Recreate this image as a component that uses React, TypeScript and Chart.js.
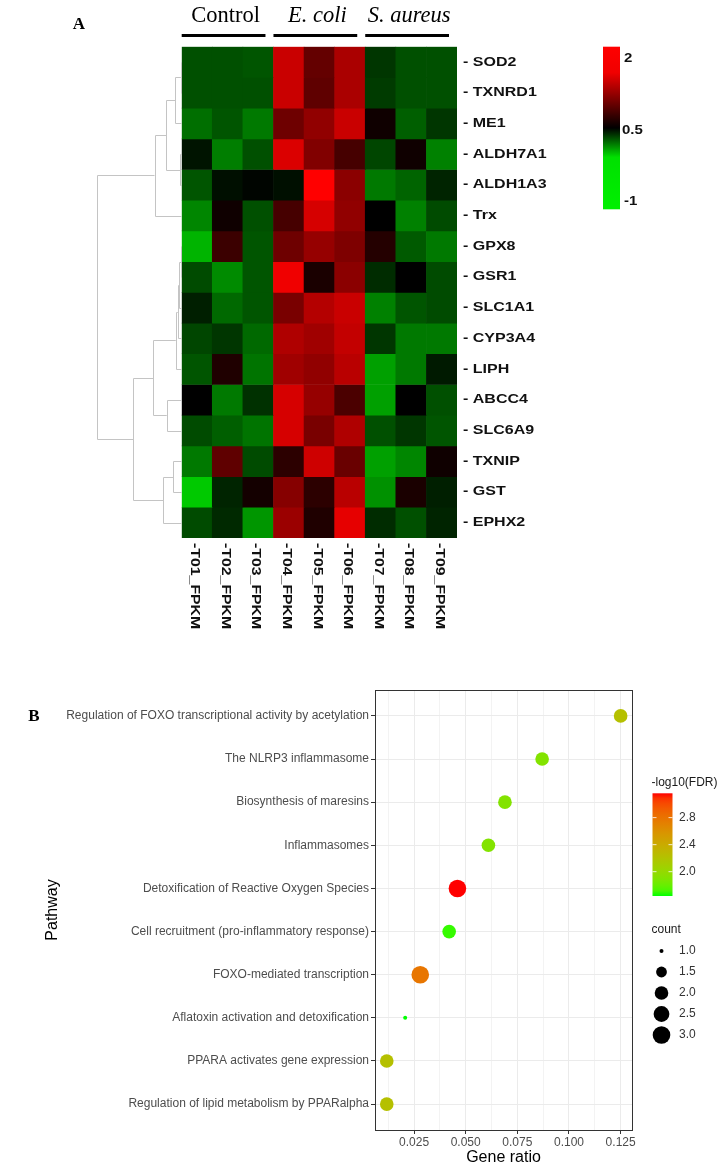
import React, { useEffect, useRef } from 'react';
import { Chart, registerables } from 'chart.js';
Chart.register(...registerables);

// ---------- Panel A data ----------
const geneLabels = ['SOD2', 'TXNRD1', 'ME1', 'ALDH7A1', 'ALDH1A3', 'Trx', 'GPX8', 'GSR1', 'SLC1A1', 'CYP3A4', 'LIPH', 'ABCC4', 'SLC6A9', 'TXNIP', 'GST', 'EPHX2'];
const sampleLabels = ['T01_FPKM', 'T02_FPKM', 'T03_FPKM', 'T04_FPKM', 'T05_FPKM', 'T06_FPKM', 'T07_FPKM', 'T08_FPKM', 'T09_FPKM'];
const groupLabels = ['Control', 'E. coli', 'S. aureus'];
const groupItalic = [false, true, true];
const groupStart = [0, 3, 6];

const SOD2 = [0.03, 0.03, 0.0, 1.68, 1.09, 1.5, 0.18, 0.03, 0.03];
const TXNRD1 = [0.03, 0.03, 0.03, 1.68, 1.06, 1.5, 0.15, 0.03, 0.03];
const ME1 = [-0.15, 0.0, -0.21, 1.15, 1.35, 1.68, 0.59, -0.06, 0.18];
const ALDH7A1 = [0.38, -0.24, 0.03, 1.79, 1.26, 0.91, 0.09, 0.59, -0.26];
const ALDH1A3 = [0.0, 0.41, 0.47, 0.41, 2.0, 1.32, -0.21, -0.09, 0.29];
const Trx = [-0.29, 0.59, 0.03, 0.91, 1.76, 1.35, 0.5, -0.26, 0.06];
const GPX8 = [-0.56, 0.85, 0.0, 1.15, 1.38, 1.24, 0.71, -0.03, -0.21];
const GSR1 = [0.06, -0.32, 0.0, 1.91, 0.65, 1.32, 0.24, 0.5, 0.06];
const SLC1A1 = [0.32, -0.12, 0.0, 1.21, 1.56, 1.68, -0.26, 0.0, 0.06];
const CYP3A4 = [0.09, 0.18, -0.12, 1.53, 1.44, 1.65, 0.18, -0.21, -0.21];
const LIPH = [0.0, 0.68, -0.18, 1.44, 1.35, 1.59, -0.44, -0.21, 0.35];
const ABCC4 = [0.5, -0.21, 0.21, 1.76, 1.38, 0.94, -0.44, 0.5, 0.03];
const SLC6A9 = [0.06, -0.06, -0.18, 1.76, 1.21, 1.53, 0.03, 0.18, 0.0];
const TXNIP = [-0.21, 1.06, 0.06, 0.76, 1.71, 1.12, -0.44, -0.29, 0.59];
const GST = [-0.68, 0.29, 0.62, 1.29, 0.76, 1.59, -0.35, 0.65, 0.32];
const EPHX2 = [0.06, 0.26, -0.38, 1.41, 0.68, 1.85, 0.24, 0.03, 0.29];
const heatRows = [SOD2, TXNRD1, ME1, ALDH7A1, ALDH1A3, Trx, GPX8, GSR1, SLC1A1, CYP3A4, LIPH, ABCC4, SLC6A9, TXNIP, GST, EPHX2];

// hclust-style merges: negative = leaf (1-based row), positive = earlier merge; third = height
const dendroMerge: [number, number, number][] = [
  [-1, -2, 0.1],
  [1, -3, 0.79],
  [-4, -5, 0.2],
  [2, 3, 1.85],
  [4, -6, 3.2],
  [-7, -8, 0.08],
  [6, -9, 0.27],
  [7, -10, 0.47],
  [8, -11, 0.7],
  [-12, -13, 1.76],
  [9, 10, 3.33],
  [-14, -15, 0.98],
  [12, -16, 2.15],
  [11, 13, 5.7],
  [5, 14, 10],
];
const heatLegendTicks = [2, 0.5, -1];

// ---------- Panel B data ----------
const pathways = [
  'Regulation of FOXO transcriptional activity by acetylation',
  'The NLRP3 inflammasome',
  'Biosynthesis of maresins',
  'Inflammasomes',
  'Detoxification of Reactive Oxygen Species',
  'Cell recruitment (pro-inflammatory response)',
  'FOXO-mediated transcription',
  'Aflatoxin activation and detoxification',
  'PPARA activates gene expression',
  'Regulation of lipid metabolism by PPARalpha',
];
const geneRatio = [0.125, 0.087, 0.069, 0.061, 0.046, 0.042, 0.028, 0.0207, 0.0118, 0.0118];
const negLog10FDR = [2.22, 1.91, 1.91, 1.91, 3.16, 1.68, 2.78, 1.64, 2.22, 2.22];
const geneCount = [2, 2, 2, 2, 3, 2, 3, 1, 2, 2];
const gratioTicks = [0.025, 0.05, 0.075, 0.1, 0.125];
const fdrLegendTicks = [2.0, 2.4, 2.8];
const countLegendValues = [1.0, 1.5, 2.0, 2.5, 3.0];

// ---------- helpers ----------
function heatColor(v: number): string {
  if (v >= 0.5) {
    const r = Math.round(Math.min(255, ((v - 0.5) / 1.5) * 255));
    return `rgb(${r},0,0)`;
  }
  const g = Math.round(Math.min(255, ((0.5 - v) / 1.5) * 255));
  return `rgb(0,${g},0)`;
}

function s2l(c: number) { c /= 255; return c <= 0.04045 ? c / 12.92 : Math.pow((c + 0.055) / 1.055, 2.4); }
function l2s(c: number) {
  const v = c <= 0.0031308 ? 12.92 * c : 1.055 * Math.pow(c, 1 / 2.4) - 0.055;
  return Math.round(Math.max(0, Math.min(1, v)) * 255);
}
function rgbToLab(rgb: number[]) {
  const R = s2l(rgb[0]), G = s2l(rgb[1]), B = s2l(rgb[2]);
  const X = (0.4124 * R + 0.3576 * G + 0.1805 * B) / 0.95047;
  const Y = 0.2126 * R + 0.7152 * G + 0.0722 * B;
  const Z = (0.0193 * R + 0.1192 * G + 0.9505 * B) / 1.08883;
  const f = (t: number) => (t > 0.008856 ? Math.cbrt(t) : 7.787 * t + 16 / 116);
  const fx = f(X), fy = f(Y), fz = f(Z);
  return [116 * fy - 16, 500 * (fx - fy), 200 * (fy - fz)];
}
function labToRgb(lab: number[]) {
  const fy = (lab[0] + 16) / 116, fx = fy + lab[1] / 500, fz = fy - lab[2] / 200;
  const fi = (t: number) => (t * t * t > 0.008856 ? t * t * t : (t - 16 / 116) / 7.787);
  const X = fi(fx) * 0.95047, Y = fi(fy), Z = fi(fz) * 1.08883;
  const R = 3.2406 * X - 1.5372 * Y - 0.4986 * Z;
  const G = -0.9689 * X + 1.8758 * Y + 0.0415 * Z;
  const B = 0.0557 * X - 0.204 * Y + 1.057 * Z;
  return [l2s(R), l2s(G), l2s(B)];
}
const LAB_LOW = rgbToLab([0, 255, 0]);
const LAB_HIGH = rgbToLab([255, 0, 0]);
const fdrMin = Math.min(...negLog10FDR);
const fdrMax = Math.max(...negLog10FDR);
function fdrColor(v: number): string {
  const t = Math.max(0, Math.min(1, (v - fdrMin) / (fdrMax - fdrMin)));
  const lab = [0, 1, 2].map((k) => LAB_LOW[k] + (LAB_HIGH[k] - LAB_LOW[k]) * t);
  const c = labToRgb(lab);
  return `rgb(${c[0]},${c[1]},${c[2]})`;
}
const cMin = Math.min(...countLegendValues), cMax = Math.max(...countLegendValues);
function countRadius(c: number): number {
  const s = 1 + 5 * Math.sqrt((c - cMin) / (cMax - cMin));
  return 0.64 + 1.36 * s;
}

function stretchText(ctx: CanvasRenderingContext2D, text: string, x: number, y: number, sx: number) {
  ctx.save();
  ctx.translate(x, y);
  ctx.scale(sx, 1);
  ctx.fillText(text, 0, 0);
  ctx.restore();
}

const SANS = '"Liberation Sans", Arial, sans-serif';
const SERIF = '"Liberation Serif", "Times New Roman", serif';

// ---------- Panel A plugin ----------
const heatDecor = {
  id: 'heatDecor',
  afterDraw(chart: any) {
    const ctx: CanvasRenderingContext2D = chart.ctx;
    const area = chart.chartArea;
    const xs = chart.scales.x;
    const ys = chart.scales.y;
    const colW = (area.right - area.left) / sampleLabels.length;
    ctx.save();

    // Panel letter
    ctx.fillStyle = '#000';
    ctx.font = `bold 17px ${SERIF}`;
    ctx.textAlign = 'center';
    ctx.textBaseline = 'middle';
    ctx.fillText('A', 79, 25);

    // Group headers
    groupLabels.forEach((g, i) => {
      const left = xs.getPixelForValue(groupStart[i]) - colW / 2;
      const right = left + 3 * colW - 8;
      ctx.strokeStyle = '#000';
      ctx.lineWidth = 3;
      ctx.beginPath();
      ctx.moveTo(left, 35.5);
      ctx.lineTo(right, 35.5);
      ctx.stroke();
      ctx.font = `${groupItalic[i] ? 'italic ' : ''}22.5px ${SERIF}`;
      ctx.textAlign = 'center';
      ctx.textBaseline = 'alphabetic';
      ctx.fillText(g, (left + right) / 2 + 2, 22);
    });

    // Row labels
    ctx.fillStyle = '#111';
    ctx.font = `bold 12.5px ${SANS}`;
    ctx.textAlign = 'left';
    ctx.textBaseline = 'middle';
    geneLabels.forEach((g, r) => {
      stretchText(ctx, '- ' + g, area.right + 6, ys.getPixelForValue(r + 0.5), 1.28);
    });

    // Column labels (rotated clockwise)
    ctx.font = `bold 12px ${SANS}`;
    sampleLabels.forEach((s, c) => {
      ctx.save();
      ctx.translate(xs.getPixelForValue(c) - 2.5, area.bottom + 5);
      ctx.rotate(Math.PI / 2);
      ctx.scale(1.32, 1);
      ctx.textAlign = 'left';
      ctx.textBaseline = 'middle';
      ctx.fillText('-' + s, 0, 0);
      ctx.restore();
    });

    // Dendrogram
    const hScale = 8.5;
    const hx = (h: number) => area.left - h * hScale;
    const nodes: { y: number; h: number }[] = [];
    const get = (id: number) => (id < 0 ? { y: ys.getPixelForValue(-id - 1 + 0.5), h: 0 } : nodes[id - 1]);
    ctx.strokeStyle = '#c4c4c4';
    ctx.lineWidth = 1;
    ctx.beginPath();
    dendroMerge.forEach(([a, b, h]) => {
      const A = get(a), B = get(b);
      const X = Math.round(hx(h)) + 0.5;
      ctx.moveTo(hx(A.h), Math.round(A.y) + 0.5);
      ctx.lineTo(X, Math.round(A.y) + 0.5);
      ctx.lineTo(X, Math.round(B.y) + 0.5);
      ctx.lineTo(hx(B.h), Math.round(B.y) + 0.5);
      nodes.push({ y: (A.y + B.y) / 2, h });
    });
    ctx.stroke();

    // Color key
    const kx = 603, kw = 17, ktop = 46.7, kbot = 209.3;
    const grad = ctx.createLinearGradient(0, ktop, 0, kbot);
    grad.addColorStop(0, '#ff0000');
    grad.addColorStop(0.16, '#f00000');
    grad.addColorStop(0.5, '#000000');
    grad.addColorStop(0.68, '#00e000');
    grad.addColorStop(1, '#00f000');
    ctx.fillStyle = grad;
    ctx.fillRect(kx, ktop, kw, kbot - ktop);
    const vTop = 2.25, vBot = -1.15;
    ctx.fillStyle = '#111';
    ctx.font = `bold 12px ${SANS}`;
    ctx.textAlign = 'left';
    ctx.textBaseline = 'middle';
    heatLegendTicks.forEach((t) => {
      const y = ktop + ((vTop - t) / (vTop - vBot)) * (kbot - ktop);
      stretchText(ctx, String(t), kx + kw + (t === 0.5 ? 2 : 4), y, 1.25);
    });
    ctx.restore();
  },
};

// ---------- Panel B plugin ----------
const dotDecor = {
  id: 'dotDecor',
  afterDraw(chart: any) {
    const ctx: CanvasRenderingContext2D = chart.ctx;
    const area = chart.chartArea;
    ctx.save();
    // panel border
    ctx.strokeStyle = '#333';
    ctx.lineWidth = 1;
    ctx.strokeRect(Math.round(area.left) + 0.5, Math.round(area.top) + 0.5, Math.round(area.right - area.left), Math.round(area.bottom - area.top));

    // panel letter
    ctx.fillStyle = '#000';
    ctx.font = `bold 17px ${SERIF}`;
    ctx.textAlign = 'center';
    ctx.textBaseline = 'middle';
    ctx.fillText('B', 34, 67);

    // colour legend
    const lx = 652.5, lw = 20, ltop = 143.3, lbot = 246;
    ctx.fillStyle = '#1a1a1a';
    ctx.font = `12px ${SANS}`;
    ctx.textAlign = 'left';
    ctx.textBaseline = 'middle';
    ctx.fillText('-log10(FDR)', 651.5, 133);
    const grad = ctx.createLinearGradient(0, lbot, 0, ltop);
    for (let k = 0; k <= 20; k++) {
      grad.addColorStop(k / 20, fdrColor(fdrMin + (fdrMax - fdrMin) * (k / 20)));
    }
    ctx.fillStyle = grad;
    ctx.fillRect(lx, ltop, lw, lbot - ltop);
    fdrLegendTicks.forEach((t) => {
      const y = lbot - ((t - fdrMin) / (fdrMax - fdrMin)) * (lbot - ltop);
      ctx.strokeStyle = 'rgba(255,255,255,0.8)';
      ctx.lineWidth = 1;
      ctx.beginPath();
      ctx.moveTo(lx, y); ctx.lineTo(lx + 4, y);
      ctx.moveTo(lx + lw - 4, y); ctx.lineTo(lx + lw, y);
      ctx.stroke();
      ctx.fillStyle = '#333';
      ctx.fillText(t.toFixed(1), 679, y);
    });

    // size legend
    ctx.fillStyle = '#1a1a1a';
    ctx.fillText('count', 651.5, 280);
    countLegendValues.forEach((c, i) => {
      const y = 301 + i * 21;
      ctx.fillStyle = '#000';
      ctx.beginPath();
      ctx.arc(661.5, y, countRadius(c), 0, Math.PI * 2);
      ctx.fill();
      ctx.fillStyle = '#333';
      ctx.fillText(c.toFixed(1), 679, y);
    });
    ctx.restore();
  },
};

export default function App() {
  const refA = useRef<HTMLCanvasElement>(null);
  const refB = useRef<HTMLCanvasElement>(null);

  useEffect(() => {
    const chartA = new Chart(refA.current as HTMLCanvasElement, {
      type: 'bar',
      data: {
        labels: sampleLabels,
        datasets: heatRows.map((vals, r) => ({
          label: geneLabels[r],
          data: vals.map((v, c) => ({ x: sampleLabels[c], y: [r, r + 1], v })) as any,
          backgroundColor: (ctx: any) => heatColor(ctx.raw ? ctx.raw.v : 0),
          borderWidth: 0,
          grouped: false,
          barPercentage: 1,
          categoryPercentage: 1,
        })),
      },
      options: {
        responsive: false,
        animation: false,
        events: [],
        layout: { padding: { left: 181.7, top: 46.7, right: 721 - 457, bottom: 650 - 538 } },
        scales: {
          x: { display: false },
          y: { display: false, min: 0, max: 16, reverse: true },
        },
        plugins: { legend: { display: false }, tooltip: { enabled: false } },
      } as any,
      plugins: [heatDecor],
    });

    const minorTicks = gratioTicks.map((t) => t - 0.0125);
    const allXTicks = [...minorTicks, ...gratioTicks].sort((a, b) => a - b);
    const isMajor = (v: number) => gratioTicks.some((t) => Math.abs(t - v) < 1e-9);

    const chartB = new Chart(refB.current as HTMLCanvasElement, {
      type: 'scatter',
      data: {
        datasets: [
          {
            data: pathways.map((p, i) => ({ x: geneRatio[i], y: i, fdr: negLog10FDR[i], count: geneCount[i] })) as any,
            pointRadius: (ctx: any) => countRadius(ctx.raw ? ctx.raw.count : 1),
            pointHoverRadius: (ctx: any) => countRadius(ctx.raw ? ctx.raw.count : 1),
            backgroundColor: (ctx: any) => fdrColor(ctx.raw ? ctx.raw.fdr : fdrMin),
            borderWidth: 0,
          },
        ],
      },
      options: {
        responsive: false,
        animation: false,
        events: [],
        layout: { padding: { left: 0, top: 40, right: 89, bottom: 0 } },
        scales: {
          x: {
            type: 'linear',
            min: 0.0061,
            max: 0.1305,
            afterBuildTicks: (s: any) => { s.ticks = allXTicks.map((v) => ({ value: v })); },
            afterFit: (s: any) => { s.height = 41; },
            ticks: {
              autoSkip: false,
              maxRotation: 0,
              padding: 1,
              color: '#4d4d4d',
              font: { family: SANS, size: 12 },
              callback: (v: any) => (isMajor(Number(v)) ? Number(v).toFixed(3) : ''),
            },
            grid: {
              color: '#ebebeb',
              lineWidth: (ctx: any) => (ctx.tick && isMajor(ctx.tick.value) ? 1 : 0.6),
              tickColor: (ctx: any) => (ctx.tick && isMajor(ctx.tick.value) ? '#333' : 'rgba(0,0,0,0)'),
              tickLength: 4,
            },
            border: { display: false },
            title: { display: true, text: 'Gene ratio', color: '#000', font: { family: SANS, size: 16 }, padding: { top: 0, bottom: 4 } },
          },
          y: {
            type: 'linear',
            min: -0.6,
            max: 9.6,
            reverse: true,
            afterBuildTicks: (s: any) => { s.ticks = pathways.map((_, i) => ({ value: i })); },
            afterFit: (s: any) => { s.width = 375; },
            ticks: {
              autoSkip: false,
              padding: 2,
              color: '#4d4d4d',
              font: { family: SANS, size: 12 },
              callback: (v: any) => pathways[Number(v)] ?? '',
            },
            grid: { color: '#ebebeb', lineWidth: 1, tickColor: '#333', tickLength: 4 },
            border: { display: false },
            title: { display: true, text: 'Pathway', color: '#000', font: { family: SANS, size: 16 }, padding: { top: 43, bottom: 0 } },
          },
        },
        plugins: { legend: { display: false }, tooltip: { enabled: false } },
      } as any,
      plugins: [dotDecor],
    });

    return () => {
      chartA.destroy();
      chartB.destroy();
    };
  }, []);

  return (
    <div style={{ position: 'absolute', left: 0, top: 0, width: 721, height: 1171, background: '#fff' }}>
      <canvas ref={refA} width={721} height={650} style={{ position: 'absolute', left: 0, top: 0 }} />
      <canvas ref={refB} width={721} height={521} style={{ position: 'absolute', left: 0, top: 650 }} />
    </div>
  );
}
